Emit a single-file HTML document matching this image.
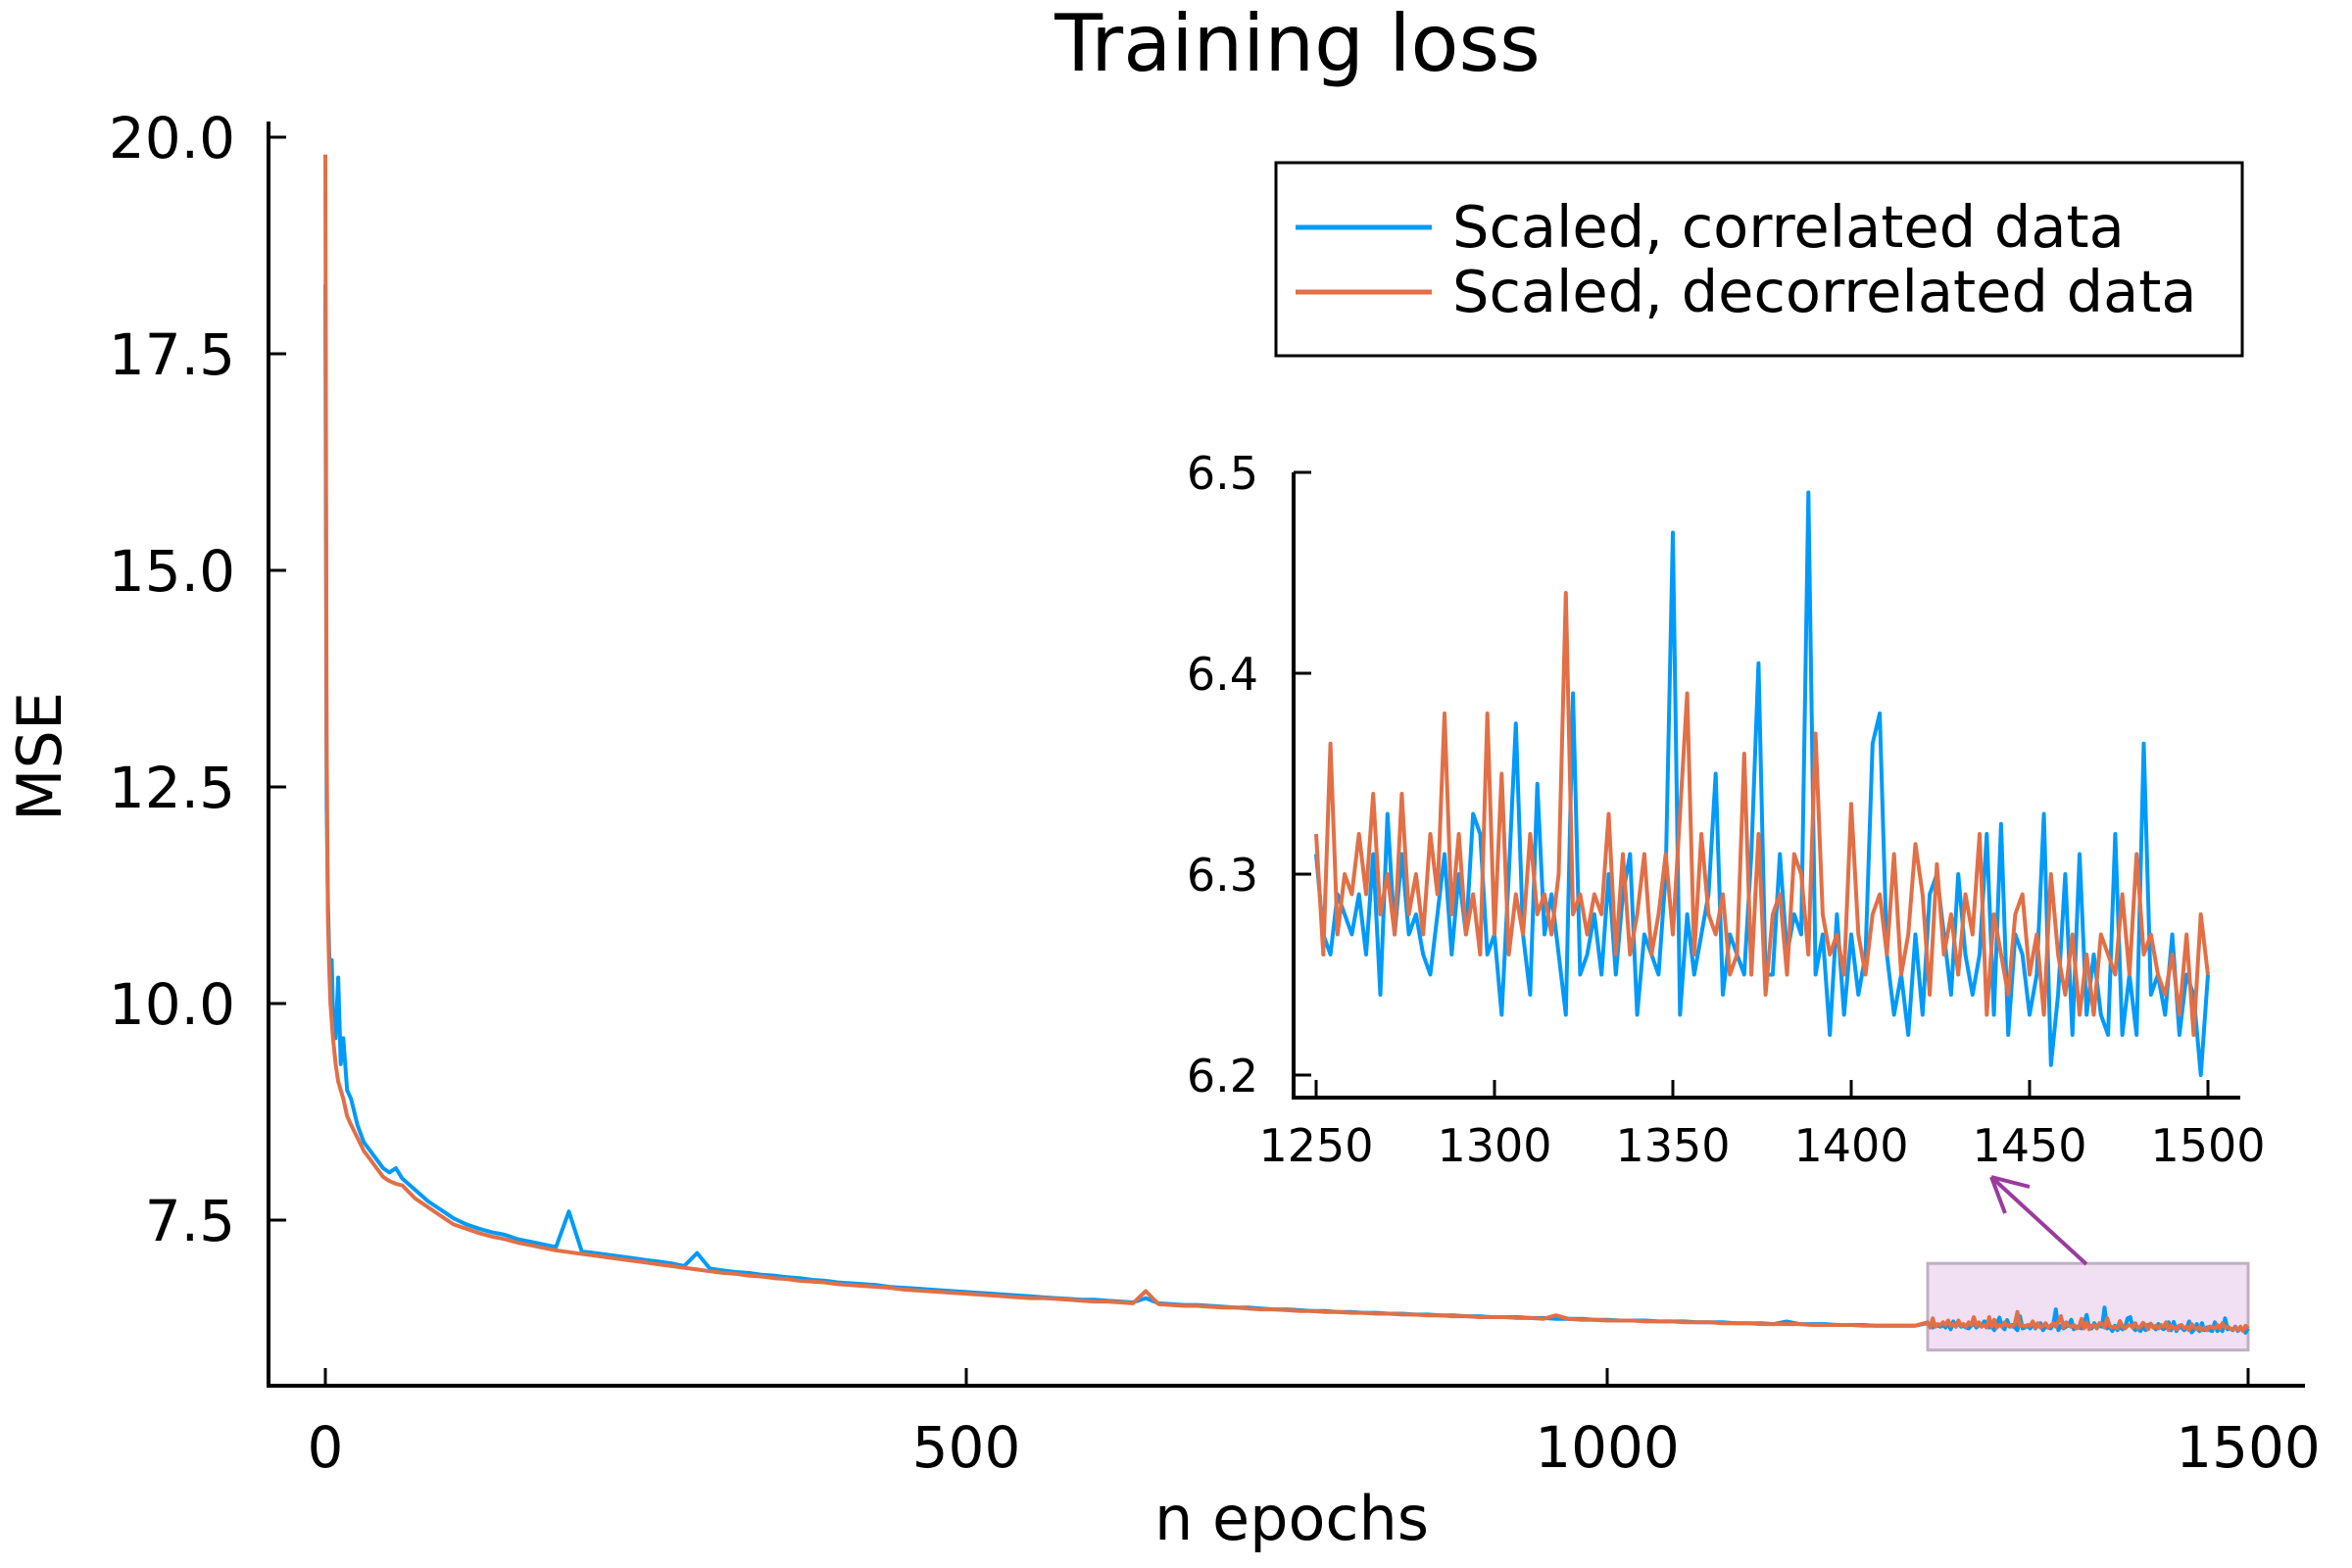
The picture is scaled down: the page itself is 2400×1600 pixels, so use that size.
<!DOCTYPE html>
<html><head><meta charset="utf-8"><style>
html,body{margin:0;padding:0;background:#fff;}
svg{display:block;font-family:"DejaVu Sans","Liberation Sans",sans-serif;}
</style></head><body>
<svg id="chart" width="2400" height="1600" viewBox="0 0 2400 1600" xmlns="http://www.w3.org/2000/svg">
<rect width="2400" height="1600" fill="#fff"/>
<text x="1324" y="72" font-size="80" text-anchor="middle">Training loss</text>
<text x="1318" y="1571" font-size="62" text-anchor="middle">n epochs</text>
<text transform="translate(62,772) rotate(-90)" font-size="62" text-anchor="middle">MSE</text>
<g id="main"></g>
<g id="inset"></g>
<g>
<rect x="1302" y="166" width="986" height="197" fill="#fff" stroke="#000" stroke-width="3"/>
<line x1="1322" y1="232" x2="1461" y2="232" stroke="#009af9" stroke-width="5"/>
<line x1="1322" y1="298" x2="1461" y2="298" stroke="#e26f46" stroke-width="5"/>
<text x="1482" y="252" font-size="59">Scaled, correlated data</text>
<text x="1482" y="318" font-size="59">Scaled, decorrelated data</text>
</g>
</svg>
<script>
const earlyEpochs=[0,1,2,3,4,5,6,8,10,12,14,17,20,25,30,35,40,45,50,55];
const earlyBlue=[18.3,12.3,11.2,10.6,10.2,10.5,9.9,9.6,10.3,9.3,9.6,9.0,8.9,8.6,8.4,8.3,8.2,8.1,8.05,8.1];
const earlyOrange=[19.8,13.0,11.0,10.4,10.0,9.8,9.6,9.3,9.1,9.0,8.9,8.7,8.6,8.45,8.3,8.2,8.1,8.0,7.95,7.92];
const midStart=60, midStep=10;
const midBlue=[7.98,7.85,7.72,7.62,7.52,7.45,7.40,7.36,7.33,7.28,
7.25,7.22,7.19,7.60,7.14,7.12,7.10,7.08,7.06,7.04,
7.02,7.00,6.97,7.12,6.94,6.92,6.90,6.89,6.87,6.86,
6.84,6.83,6.81,6.80,6.78,6.77,6.76,6.75,6.73,6.72,
6.71,6.70,6.69,6.68,6.67,6.66,6.65,6.64,6.63,6.62,
6.61,6.60,6.59,6.58,6.58,6.57,6.56,6.55,6.60,6.54,
6.53,6.52,6.52,6.51,6.50,6.49,6.49,6.48,6.47,6.47,
6.46,6.45,6.45,6.44,6.44,6.43,6.43,6.42,6.42,6.41,
6.41,6.40,6.40,6.39,6.39,6.38,6.38,6.38,6.37,6.37,
6.36,6.36,6.36,6.35,6.35,6.34,6.34,6.34,6.33,6.33,
6.33,6.32,6.32,6.32,6.31,6.31,6.31,6.30,6.33,6.30,
6.30,6.30,6.29,6.29,6.29,6.28,6.28,6.28,6.28];
const midOrange=[7.90,7.75,7.65,7.55,7.45,7.40,7.35,7.31,7.28,7.24,
7.21,7.18,7.15,7.13,7.11,7.09,7.07,7.05,7.03,7.01,
6.99,6.97,6.95,6.93,6.91,6.89,6.88,6.86,6.85,6.83,
6.82,6.80,6.79,6.78,6.76,6.75,6.74,6.73,6.72,6.70,
6.69,6.68,6.67,6.66,6.65,6.64,6.63,6.62,6.61,6.60,
6.60,6.59,6.58,6.57,6.56,6.56,6.55,6.54,6.68,6.53,
6.52,6.51,6.51,6.50,6.49,6.49,6.48,6.47,6.47,6.46,
6.45,6.45,6.44,6.44,6.43,6.43,6.42,6.42,6.41,6.41,
6.40,6.40,6.39,6.39,6.38,6.38,6.38,6.37,6.37,6.36,
6.40,6.36,6.35,6.35,6.34,6.34,6.34,6.33,6.33,6.33,
6.32,6.32,6.32,6.31,6.31,6.31,6.30,6.30,6.30,6.30,
6.29,6.29,6.29,6.29,6.28,6.28,6.28,6.28,6.28];
const tailStart=1250, tailStep=2;
const tailBlue=[6.31,6.27,6.26,6.29,6.28,6.27,6.29,6.26,6.31,6.24,
6.33,6.27,6.31,6.27,6.28,6.26,6.25,6.28,6.31,6.26,
6.30,6.27,6.33,6.32,6.26,6.27,6.23,6.30,6.375,6.27,
6.24,6.345,6.27,6.29,6.26,6.23,6.39,6.25,6.26,6.28,
6.25,6.30,6.25,6.29,6.31,6.23,6.27,6.26,6.25,6.30,
6.47,6.23,6.28,6.25,6.27,6.29,6.35,6.24,6.27,6.26,
6.25,6.31,6.405,6.25,6.25,6.31,6.26,6.28,6.27,6.49,
6.25,6.27,6.22,6.28,6.23,6.27,6.24,6.26,6.365,6.38,
6.26,6.23,6.25,6.22,6.27,6.23,6.29,6.30,6.27,6.24,
6.30,6.26,6.24,6.26,6.32,6.23,6.325,6.22,6.27,6.26,
6.23,6.25,6.33,6.205,6.24,6.30,6.22,6.31,6.23,6.26,
6.23,6.22,6.32,6.22,6.25,6.22,6.365,6.24,6.25,6.23,
6.27,6.22,6.25,6.24,6.20,6.25];
const tailOrange=[6.32,6.26,6.365,6.27,6.30,6.29,6.32,6.29,6.34,6.28,
6.30,6.27,6.34,6.28,6.30,6.27,6.32,6.29,6.38,6.28,
6.32,6.27,6.29,6.26,6.38,6.27,6.35,6.26,6.29,6.27,
6.32,6.28,6.29,6.27,6.30,6.44,6.28,6.29,6.27,6.29,
6.28,6.33,6.26,6.31,6.26,6.28,6.31,6.26,6.28,6.31,
6.27,6.33,6.39,6.26,6.32,6.28,6.27,6.29,6.25,6.26,
6.36,6.25,6.32,6.24,6.28,6.29,6.25,6.31,6.30,6.26,
6.37,6.28,6.26,6.27,6.25,6.335,6.27,6.25,6.28,6.29,
6.26,6.31,6.25,6.27,6.315,6.29,6.24,6.305,6.26,6.28,
6.25,6.29,6.27,6.32,6.23,6.28,6.26,6.24,6.28,6.29,
6.25,6.27,6.23,6.30,6.26,6.24,6.27,6.23,6.26,6.23,
6.27,6.26,6.25,6.29,6.25,6.31,6.26,6.27,6.25,6.24,
6.26,6.23,6.27,6.22,6.28,6.25];
const mainXTicks=[0,500,1000,1500];
const mainYTicks=[7.5,10.0,12.5,15.0,17.5,20.0];
const insetXTicks=[1250,1300,1350,1400,1450,1500];
const insetYTicks=[6.2,6.3,6.4,6.5];

const NS="http://www.w3.org/2000/svg";
function mk(tag,attrs,parent){const e=document.createElementNS(NS,tag);for(const k in attrs)e.setAttribute(k,attrs[k]);parent.appendChild(e);return e;}
const mx=v=>332+v*1.308, my=v=>1245-(v-7.5)*88.4;
const ix=v=>1343+(v-1250)*3.64, iy=v=>1097-(v-6.2)*2050;

function series(blueOrOrange){
  const pts=[];
  const e=blueOrOrange==='b'?earlyBlue:earlyOrange, m=blueOrOrange==='b'?midBlue:midOrange, t=blueOrOrange==='b'?tailBlue:tailOrange;
  earlyEpochs.forEach((x,i)=>pts.push([x,e[i]]));
  m.forEach((v,i)=>pts.push([midStart+i*midStep,v]));
  t.forEach((v,i)=>pts.push([tailStart+i*tailStep,v]));
  return pts;
}
const main=document.getElementById('main');
const ax=mk('path',{d:'M274,124 V1414 H2352',fill:'none',stroke:'#000','stroke-width':4},main);


mainXTicks.forEach(t=>{
  mk('line',{x1:mx(t),x2:mx(t),y1:1414,y2:1396,stroke:'#000','stroke-width':3},main);
  const tx=mk('text',{x:mx(t),y:1497,'font-size':58,'text-anchor':'middle'},main);tx.textContent=t;
  
  
});
mainYTicks.forEach(t=>{
  mk('line',{x1:274,x2:292,y1:my(t),y2:my(t),stroke:'#000','stroke-width':3},main);
  const tx=mk('text',{x:240,y:my(t)+21,'font-size':58,'text-anchor':'end'},main);tx.textContent=t.toFixed(1);
  
  
});
const zb=mk('rect',{x:mx(1250),y:my(7),width:mx(1500)-mx(1250),height:my(6)-my(7),fill:'#f1dff3',stroke:'#c0b0c4','stroke-width':3},main);


function pathFor(pts,fx,fy,filter){return 'M'+pts.filter(filter).map(p=>fx(p[0]).toFixed(1)+','+fy(p[1]).toFixed(1)).join(' L');}
const pb=mk('path',{d:pathFor(series('b'),mx,my,()=>true),fill:'none',stroke:'#009af9','stroke-width':4,'stroke-linejoin':'round'},main);


const po=mk('path',{d:pathFor(series('o'),mx,my,()=>true),fill:'none',stroke:'#e26f46','stroke-width':4,'stroke-linejoin':'round'},main);


const ar=mk('path',{d:'M2129,1290 L2032,1201 M2032,1201 L2071,1211 M2032,1201 L2046,1238',fill:'none',stroke:'#9b3b9e','stroke-width':4},main);



const ins=document.getElementById('inset');
mk('rect',{x:1322,y:470,width:964,height:650,fill:'#fff'},ins);
const iax=mk('path',{d:'M1320,482 V1120 H2286',fill:'none',stroke:'#000','stroke-width':4},ins);


insetXTicks.forEach(t=>{
  mk('line',{x1:ix(t),x2:ix(t),y1:1120,y2:1102,stroke:'#000','stroke-width':3},ins);
  const tx=mk('text',{x:ix(t),y:1185,'font-size':46,'text-anchor':'middle'},ins);tx.textContent=t;
  
  
});
insetYTicks.forEach(t=>{
  mk('line',{x1:1320,x2:1338,y1:iy(t),y2:iy(t),stroke:'#000','stroke-width':3},ins);
  const tx=mk('text',{x:1284,y:iy(t)+17,'font-size':46,'text-anchor':'end'},ins);tx.textContent=t.toFixed(1);
  
  
});
const ib=mk('path',{d:pathFor(series('b'),ix,iy,p=>p[0]>=1250),fill:'none',stroke:'#009af9','stroke-width':4,'stroke-linejoin':'round'},ins);


const io=mk('path',{d:pathFor(series('o'),ix,iy,p=>p[0]>=1250),fill:'none',stroke:'#e26f46','stroke-width':4,'stroke-linejoin':'round'},ins);


</script>
</body></html>
